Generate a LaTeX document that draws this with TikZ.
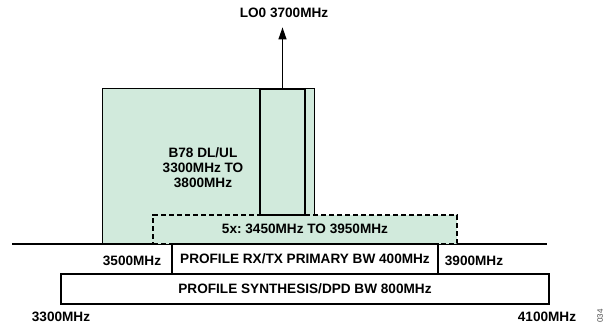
\documentclass[tikz,border=0pt]{standalone}
\usepackage{fontspec}
\setmainfont{Liberation Sans}
\usetikzlibrary{arrows.meta}
\definecolor{bandgreen}{RGB}{209,234,220}
\frenchspacing
\begin{document}
\begin{tikzpicture}[x=1pt,y=-1pt,line width=1.1pt,
  lbl/.style={font=\bfseries\fontsize{13.6}{15}\selectfont,inner sep=0pt,align=center},
  bandfill/.style={fill=bandgreen,draw=none,inner sep=0pt},
  framebox/.style={draw,fill=white,inner sep=0pt,font=\bfseries\fontsize{13.6}{15}\selectfont},
  dashbox/.style={draw,fill=bandgreen,dash pattern=on 5pt off 3pt,inner sep=0pt,font=\bfseries\fontsize{13.6}{15}\selectfont}]
\useasboundingbox (0,0) rectangle (611,326);
% green band
\node[bandfill,minimum width=211pt,minimum height=155pt] (b78) at (208.5,166.5) {};
\node[lbl] (b78txt) at (203,168) {B78 DL/UL\\3300MHz TO\\3800MHz};
% baseline
\coordinate (bl) at (12,244);
\coordinate (br) at (547,244);
\draw (bl) -- (br);
% 5x band
\node[dashbox,minimum width=304pt,minimum height=28.5pt] (five) at (305,229.25) {5x: 3450MHz TO 3950MHz};
% outline of B78
\draw (b78.south west) -- (b78.north west) -- (b78.north east) -- (b78.north east |- five.north);
% inner LO band
\node[draw,inner sep=0pt,minimum width=45pt,minimum height=126pt] (inner) at (282.5,152) {};
% profile boxes
\node[framebox,minimum width=266pt,minimum height=30pt] (prim) at (305,259) {PROFILE RX/TX PRIMARY BW 400MHz};
\node[framebox,minimum width=488pt,minimum height=30pt] (synth) at (305,289) {PROFILE SYNTHESIS/DPD BW 800MHz};
% labels
\node[lbl] (f3500) at (132,261) {3500MHz};
\node[lbl] (f3900) at (474,261) {3900MHz};
\node[lbl] (f3300) at (61,317) {3300MHz};
\node[lbl] (f4100) at (547,317) {4100MHz};
\node[inner sep=0pt,font=\fontsize{8}{9}\selectfont,text=black!70,rotate=90] (fig) at (600,316) {034};
% LO
\node[lbl] (lo) at (284,13) {LO0 3700MHz};
\draw[-{Triangle[width=8pt,length=12pt]},shorten >=9pt] (inner.north) -- (inner.north |- lo.south);
\end{tikzpicture}
\end{document}
